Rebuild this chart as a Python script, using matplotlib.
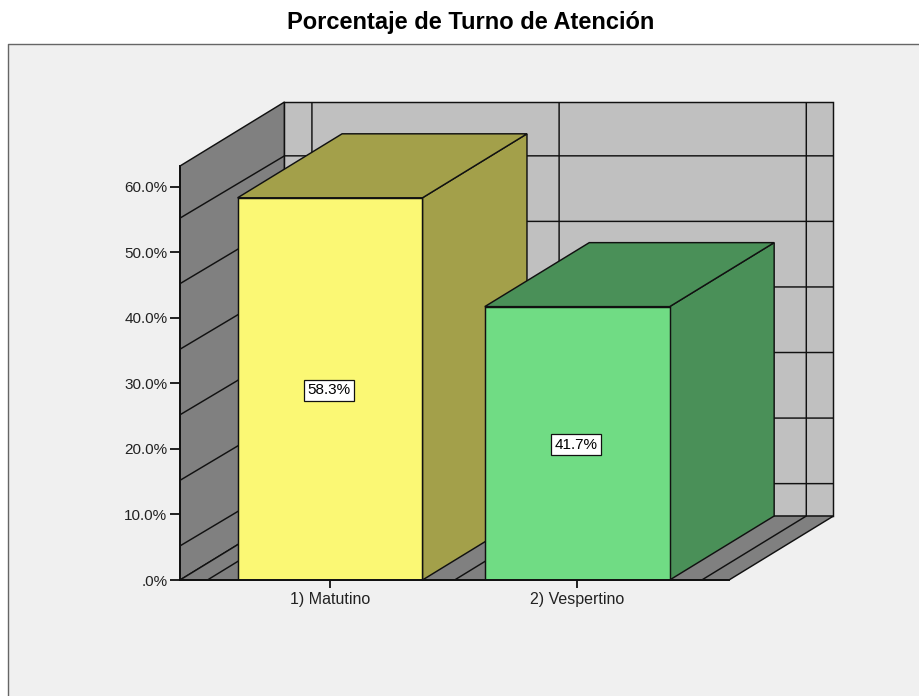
"""Bar chart with SPSS-style 3D walls: percentage of patients per attention shift."""

import matplotlib

matplotlib.use("Agg")
import matplotlib.pyplot as plt
from matplotlib.lines import Line2D
from matplotlib.patches import Polygon, Rectangle

plt.rcParams["font.family"] = ["Liberation Sans", "DejaVu Sans"]

CATEGORIES = ["1) Matutino", "2) Vespertino"]
PERCENTS = [58.3, 41.7]
VALUE_LABELS = ["58.3%", "41.7%"]
Y_TICKS = [0, 10, 20, 30, 40, 50, 60]
Y_TICK_LABELS = [".0%", "10.0%", "20.0%", "30.0%", "40.0%", "50.0%", "60.0%"]
GRID_VALUES = [5.2, 15.2, 25.2, 35.2, 45.2, 55.2]
CATEGORY_EDGES = [-0.496, 0.504, 1.504]

FRONT_COLORS = ["#FBF874", "#70DC84"]
SHADE_COLORS = ["#A3A04A", "#4A9058"]
WALL = "#808080"
BACK = "#C0C0C0"
PANEL = "#F0F0F0"
INK = "#111111"

W, H = 920, 696
XMIN, XMAX = -0.607, 1.614
YMAX = 63.15
BAR_WIDTH = 0.748
# depth of the box in data units (about 105 px across, 64 px up)
DX = 0.4227
DY = 9.76
# the gridlines climb a little less than the box edges do
GRID_RISE = 9.5
LW = 1.05


def face(ax, pts, color, z):
    ax.add_patch(Polygon(pts, closed=True, facecolor=color, edgecolor=INK,
                         linewidth=LW, zorder=z, clip_on=False))


def seg(ax, xs, ys, z=1.5, lw=LW):
    ax.plot(xs, ys, color=INK, linewidth=lw, zorder=z, clip_on=False,
            solid_capstyle="butt")


fig = plt.figure(figsize=(W / 100, H / 100), dpi=100, facecolor="white")

# grey panel behind the chart, open on the right and at the bottom
fig.add_artist(Rectangle((8 / W, 0), 1, 1 - 44 / H, transform=fig.transFigure,
                         facecolor=PANEL, edgecolor="none", zorder=-2))
fig.add_artist(Line2D([8 / W, 8 / W, 1], [0, 1 - 44 / H, 1 - 44 / H],
                      transform=fig.transFigure, color="#666666", linewidth=1.0, zorder=-1))
fig.text(471 / W, 1 - 22.5 / H, "Porcentaje de Turno de Atención", ha="center",
         va="center", fontsize=17, fontweight="bold", color="black")

ax = fig.add_axes([180 / W, 1 - 580 / H, (729 - 180) / W, (580 - 166) / H])
ax.patch.set_visible(False)
ax.set_xlim(XMIN, XMAX)
ax.set_ylim(0, YMAX)

# walls and floor
face(ax, [(XMIN, 0), (XMIN + DX, DY), (XMIN + DX, YMAX + DY), (XMIN, YMAX)], WALL, 1)
face(ax, [(XMIN + DX, DY), (XMAX + DX, DY), (XMAX + DX, YMAX + DY), (XMIN + DX, YMAX + DY)], BACK, 1)
face(ax, [(XMIN, 0), (XMAX, 0), (XMAX + DX, DY), (XMIN + DX, DY)], WALL, 1)

# gridlines wrapping from the left wall onto the back wall
for v in GRID_VALUES:
    seg(ax, [XMIN, XMIN + DX, XMAX + DX], [v, v + GRID_RISE, v + GRID_RISE])
# category dividers running over the floor and up the back wall
for e in CATEGORY_EDGES:
    seg(ax, [e, e + DX, e + DX], [0, DY, YMAX + DY])

# bars: front from ax.bar, then top and side faces; left to right so later bars overlap
for i, (val, front, shade) in enumerate(zip(PERCENTS, FRONT_COLORS, SHADE_COLORS)):
    z = 3 + i
    x0, x1 = i - BAR_WIDTH / 2, i + BAR_WIDTH / 2
    face(ax, [(x1, 0), (x1 + DX, DY), (x1 + DX, val + DY), (x1, val)], shade, z)
    face(ax, [(x0, val), (x1, val), (x1 + DX, val + DY), (x0 + DX, val + DY)], shade, z)
    ax.bar(i, val, width=BAR_WIDTH, color=front, edgecolor=INK, linewidth=LW, zorder=z + 0.1)
    ax.text(i - 0.005, val / 2 - 0.2, VALUE_LABELS[i], ha="center", va="center", fontsize=11,
            color="black", zorder=z + 0.2,
            bbox=dict(boxstyle="square,pad=0.24", facecolor="white", edgecolor=INK, linewidth=0.9))

ax.set_yticks(Y_TICKS, Y_TICK_LABELS)
ax.set_xticks(range(len(CATEGORIES)), CATEGORIES)
ax.tick_params(axis="y", length=7, width=1.3, pad=2, labelsize=11, color=INK, labelcolor="#222222")
ax.tick_params(axis="x", length=6, width=1.3, pad=2.5, labelsize=11.5, color=INK, labelcolor="#222222")
for side in ("top", "right"):
    ax.spines[side].set_visible(False)
for side in ("left", "bottom"):
    ax.spines[side].set_linewidth(1.4)
    ax.spines[side].set_color(INK)
    ax.spines[side].set_zorder(6)

fig.savefig("out.png", dpi=100)
plt.close(fig)
